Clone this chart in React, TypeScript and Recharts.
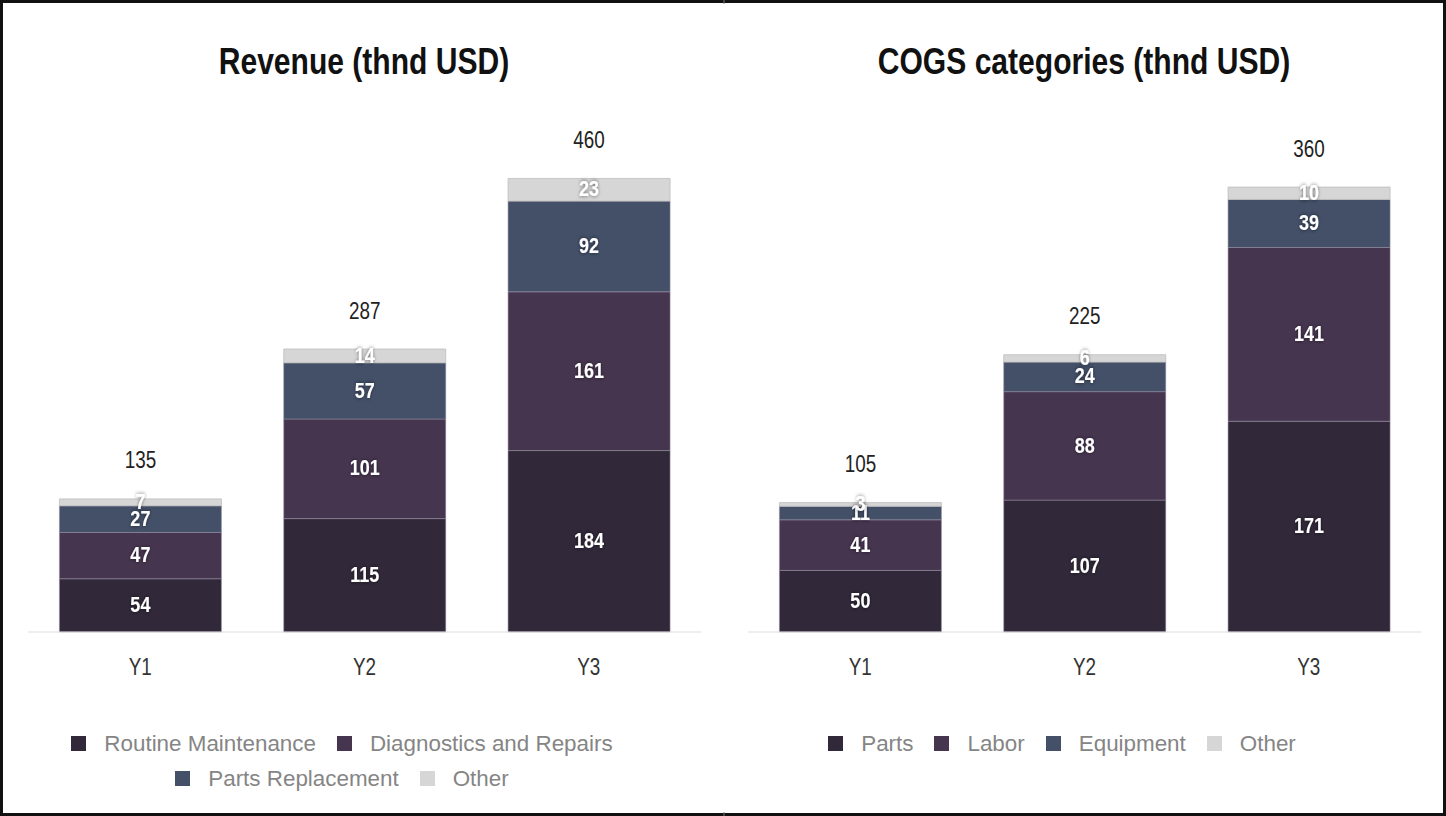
import React from "react";
import { BarChart, Bar, XAxis, YAxis, LabelList } from "recharts";

const years = ["Y1", "Y2", "Y3"];

const revRoutine = [54, 115, 184];
const revDiagnostics = [47, 101, 161];
const revParts = [27, 57, 92];
const revOther = [7, 14, 23];
const revTotals = [135, 287, 460];

const cogsParts = [50, 107, 171];
const cogsLabor = [41, 88, 141];
const cogsEquipment = [11, 24, 39];
const cogsOther = [3, 6, 10];
const cogsTotals = [105, 225, 360];

const revLegend = ["Routine Maintenance", "Diagnostics and Repairs", "Parts Replacement", "Other"];
const cogsLegend = ["Parts", "Labor", "Equipment", "Other"];

const colors = ["#312839", "#46354f", "#435068", "#d6d6d6"];

const SANS = "'Liberation Sans', Arial, sans-serif";
const NARROW_SCALE = 0.82;

const revData = years.map((y, i) => ({
  year: y,
  a: revRoutine[i],
  b: revDiagnostics[i],
  c: revParts[i],
  d: revOther[i],
  total: revTotals[i],
}));

const cogsData = years.map((y, i) => ({
  year: y,
  a: cogsParts[i],
  b: cogsLabor[i],
  c: cogsEquipment[i],
  d: cogsOther[i],
  total: cogsTotals[i],
}));

const NText = ({ x, y, children, sx, ...rest }: any) => (
  <text
    transform={`translate(${x} ${y}) scale(${sx ?? NARROW_SCALE} 1)`}
    x={0}
    y={0}
    textAnchor="middle"
    fontFamily={SANS}
    {...rest}
  >
    {children}
  </text>
);

const InnerLabel = (props: any) => {
  const { x, y, width, height, value } = props;
  return (
    <NText
      x={x + width / 2}
      y={y + height / 2}
      dy="0.3em"
      fill="#ffffff"
      fontWeight="bold"
      fontSize={22}
      filter="url(#halo)"
    >
      {value}
    </NText>
  );
};

const makeTotalLabel = (totals: number[]) => (props: any) => {
  const { x, y, width, index } = props;
  return (
    <NText x={x + width / 2} y={y - 38} dy="0.33em" fill="#222222" fontSize={23}>
      {totals[index]}
    </NText>
  );
};

const Tick = (props: any) => {
  const { x, payload } = props;
  return (
    <NText x={x} y={632 + 35} dy="0.33em" fill="#333333" fontSize={23}>
      {payload.value}
    </NText>
  );
};

const Halo = () => (
  <defs>
    <filter id="halo" x="-50%" y="-50%" width="200%" height="200%">
      <feDropShadow dx="0" dy="0" stdDeviation="2" floodColor="#000000" floodOpacity="0.55" />
    </filter>
  </defs>
);

function StackChart({ data, totals, max, marginLeft, marginRight }: any) {
  const stroke = "rgba(150,140,160,0.55)";
  return (
    <BarChart
      width={723}
      height={816}
      data={data}
      margin={{ top: 139, bottom: 134, left: marginLeft, right: marginRight }}
      barCategoryGap="14%"
    >
      <Halo />
      <XAxis
        dataKey="year"
        axisLine={{ stroke: "#dddddd" }}
        tickLine={false}
        tick={<Tick />}
        height={50}
        interval={0}
      />
      <YAxis hide domain={[0, max]} />
      <Bar dataKey="a" stackId="s" fill={colors[0]} stroke={stroke} strokeWidth={1} isAnimationActive={false}>
        <LabelList dataKey="a" content={<InnerLabel />} />
      </Bar>
      <Bar dataKey="b" stackId="s" fill={colors[1]} stroke={stroke} strokeWidth={1} isAnimationActive={false}>
        <LabelList dataKey="b" content={<InnerLabel />} />
      </Bar>
      <Bar dataKey="c" stackId="s" fill={colors[2]} stroke={stroke} strokeWidth={1} isAnimationActive={false}>
        <LabelList dataKey="c" content={<InnerLabel />} />
      </Bar>
      <Bar dataKey="d" stackId="s" fill={colors[3]} stroke="rgba(190,190,190,0.8)" strokeWidth={1} isAnimationActive={false}>
        <LabelList dataKey="d" content={<InnerLabel />} />
        <LabelList dataKey="total" content={makeTotalLabel(totals)} />
      </Bar>
    </BarChart>
  );
}

function LegendBlock({ names, cx }: { names: string[]; cx: number }) {
  return (
    <div
      style={{
        position: "absolute",
        left: cx - 300,
        top: 726,
        width: 600,
        display: "flex",
        flexWrap: "wrap",
        justifyContent: "center",
        columnGap: 21,
        rowGap: 0,
      }}
    >
      {names.map((n, i) => (
        <div key={n} style={{ display: "flex", alignItems: "center", height: 35 }}>
          <div style={{ width: 15, height: 15, background: colors[i], marginRight: 18 }} />
          <span style={{ fontFamily: SANS, fontSize: 22.4, color: "#858585", lineHeight: "35px" }}>{n}</span>
        </div>
      ))}
    </div>
  );
}

export default function App() {
  return (
    <div
      style={{
        position: "absolute",
        left: 0,
        top: 0,
        width: 1446,
        height: 816,
        background: "#ffffff",
        overflow: "hidden",
      }}
    >
      <div style={{ position: "absolute", left: 0, top: 0 }}>
        <StackChart data={revData} totals={revTotals} max={500} marginLeft={28} marginRight={22} />
      </div>
      <div style={{ position: "absolute", left: 723, top: 0 }}>
        <StackChart data={cogsData} totals={cogsTotals} max={400} marginLeft={25} marginRight={25} />
      </div>
      <svg width={1446} height={816} style={{ position: "absolute", left: 0, top: 0, pointerEvents: "none" }}>
        <NText x={364} y={74} sx={0.835} fontWeight="bold" fontSize={36} fill="#111111">
          Revenue (thnd USD)
        </NText>
        <NText x={1084} y={74} sx={0.835} fontWeight="bold" fontSize={36} fill="#111111">
          COGS categories (thnd USD)
        </NText>
        <rect x={1.5} y={1.5} width={1443} height={813} fill="none" stroke="#111111" strokeWidth={3} />
        <line x1={724} y1={0} x2={724} y2={4} stroke="#777" strokeWidth={1} />
        <line x1={724} y1={812} x2={724} y2={816} stroke="#777" strokeWidth={1} />
      </svg>
      <LegendBlock names={revLegend} cx={342} />
      <LegendBlock names={cogsLegend} cx={1062} />
    </div>
  );
}
